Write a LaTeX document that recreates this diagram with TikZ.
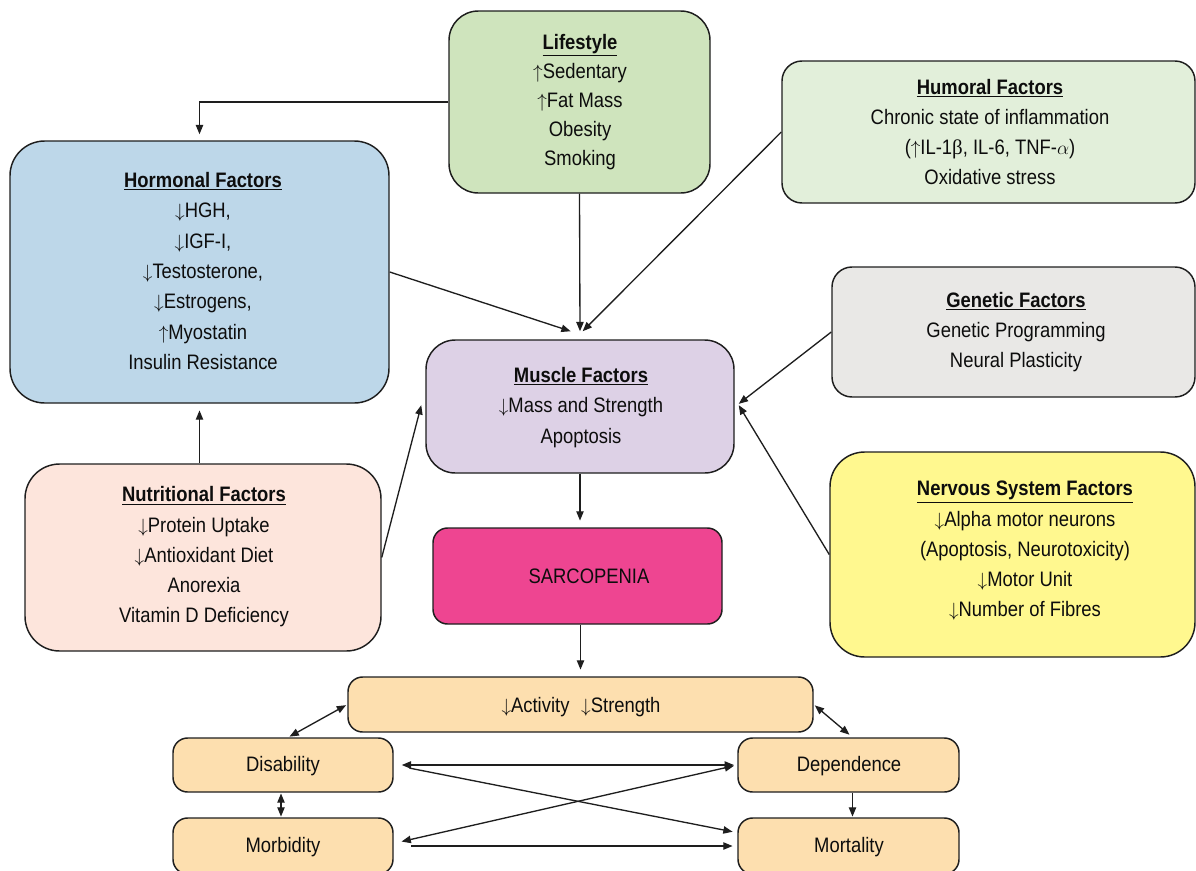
\documentclass[tikz,border=0pt]{standalone}
\usepackage{fontspec}
\setmainfont{Liberation Sans}[FakeStretch=0.88]
\newfontfamily\grk{Liberation Serif}
\usetikzlibrary{fit,arrows.meta,calc}
\definecolor{cLife}{HTML}{CFE4BD}
\definecolor{cHum}{HTML}{E2EFDA}
\definecolor{cHorm}{HTML}{BDD7E9}
\definecolor{cGen}{HTML}{E9E8E6}
\definecolor{cMus}{HTML}{DDD1E6}
\definecolor{cNut}{HTML}{FDE5DC}
\definecolor{cNerv}{HTML}{FFF88F}
\definecolor{cSar}{HTML}{EE4591}
\definecolor{cOut}{HTML}{FDDFAF}
\definecolor{cLine}{HTML}{1E1E1E}
\newcommand{\ttl}[1]{\underline{\textbf{#1}}}
\newcommand{\UA}{$\uparrow$}
\newcommand{\DA}{$\downarrow$}
\tikzset{
  box/.style={draw=cLine, line width=1.1pt, inner sep=0pt},
  txt/.style={align=center, inner sep=0pt, text=black!95,
    font=\fontsize{15.7}{22.7}\selectfont},
  conn/.style={draw=cLine, line width=1pt, -{Triangle[length=7pt,width=5.5pt]}},
  dconn/.style={draw=cLine, line width=1pt, {Triangle[length=7pt,width=5.5pt]}-{Triangle[length=7pt,width=5.5pt]}}
}
\begin{document}
\begin{tikzpicture}[x=0.75pt,y=-0.75pt]
\useasboundingbox (0,0) rectangle (1196,871);
% boxes
\node[box, fill=cLife, rounded corners=22pt, fit={(449,11)(710,193)}] (life) {};
\node[box, fill=cHum, rounded corners=15pt, fit={(782,61)(1195,203)}] (hum) {};
\node[box, fill=cHorm, rounded corners=26pt, fit={(10,141)(389,403)}] (horm) {};
\node[box, fill=cGen, rounded corners=15pt, fit={(832,267)(1195,397)}] (gen) {};
\node[box, fill=cMus, rounded corners=22pt, fit={(426,340)(734,473)}] (musc) {};
\node[box, fill=cNut, rounded corners=26pt, fit={(25,464)(381,651)}] (nut) {};
\node[box, fill=cNerv, rounded corners=26pt, fit={(830,452)(1195,657)}] (nerv) {};
\node[box, fill=cSar, rounded corners=11pt, fit={(433,528)(722,624)}] (sar) {};
\node[box, fill=cOut, rounded corners=11pt, fit={(348,677)(813,732)}] (act) {};
\node[box, fill=cOut, rounded corners=11pt, fit={(173,738)(393,792)}] (dis) {};
\node[box, fill=cOut, rounded corners=11pt, fit={(738,738)(959,792)}] (dep) {};
\node[box, fill=cOut, rounded corners=11pt, fit={(173,818)(393,874)}] (morb) {};
\node[box, fill=cOut, rounded corners=11pt, fit={(738,818)(959,874)}] (mort) {};
% texts
\node[txt, font=\fontsize{15.7}{21.9}\selectfont] (lifeT) at (580,102)
  {\ttl{Lifestyle}\\ \UA Sedentary\\ \UA Fat Mass\\ Obesity\\ Smoking};
\node[txt] (humT) at (990,132)
  {\ttl{Humoral Factors}\\ Chronic state of inflammation\\ (\UA IL-1{\grk β}, IL-6, TNF-$\alpha$)\\ Oxidative stress};
\node[txt] (hormT) at (203,271)
  {\ttl{Hormonal Factors}\\ \DA HGH,\\ \DA IGF-I,\\ \DA Testosterone,\\ \DA Estrogens,\\ \UA Myostatin\\ Insulin Resistance};
\node[txt] (genT) at (1016,332)
  {\ttl{Genetic Factors}\\ Genetic Programming\\ Neural Plasticity};
\node[txt] (muscT) at (581,407.5)
  {\ttl{Muscle Factors}\\ \DA Mass and Strength\\ Apoptosis};
\node[txt] (nutT) at (204,557)
  {\ttl{Nutritional Factors}\\ \DA Protein Uptake\\ \DA Antioxidant Diet\\ Anorexia\\ Vitamin D Deficiency};
\node[txt] (nervT) at (1025,551)
  {\ttl{Nervous System Factors}\\ \DA Alpha motor neurons\\ (Apoptosis, Neurotoxicity)\\ \DA Motor Unit\\ \DA Number of Fibres};
\node[txt] (sarT) at (589,576) {SARCOPENIA};
\node[txt] (actT) at (581,707) {\DA Activity\hspace{5pt} \DA Strength};
\node[txt] (disT) at (283,766) {Disability};
\node[txt] (depT) at (849,766) {Dependence};
\node[txt] (morbT) at (283,847) {Morbidity};
\node[txt] (mortT) at (849,847) {Mortality};
% helper coordinates
\coordinate (mt) at ([yshift=6pt]musc.north);
\coordinate (me) at ([xshift=3pt]musc.east);
\coordinate (mw) at ([xshift=-3pt]musc.west);
% connectors
\draw[conn] (life.west) -| ([yshift=4.5pt]horm.north);
\draw[conn] (life.south) -- (mt);
\draw[conn] (horm.east) -- ([xshift=-7pt]mt);
\draw[conn] (hum.west) -- ([xshift=2pt]mt);
\draw[conn] (gen.west) -- ([yshift=2pt]me);
\draw[conn] (nerv.west) -- ([yshift=1pt]me);
\draw[conn] (nut.east) -- ([yshift=1pt]mw);
\draw[conn] (horm.south |- nut.north) -- ([yshift=-5pt]horm.south);
\draw[conn] (musc.south) -- ([yshift=5pt]musc.south |- sar.north);
\draw[conn] (act.north |- sar.south) -- ([yshift=5pt]act.north);
\draw[dconn, shorten <=1pt, shorten >=1pt] (act.west) -- ([xshift=4pt]dis.north);
\draw[dconn, shorten <=1pt, shorten >=3pt] (act.east) -- ([xshift=3pt]dep.north);
\draw[dconn, shorten <=6pt, shorten >=2.5pt] (dis.east) -- (dep.west);
\draw[conn, shorten <=12pt, shorten >=3.5pt] (dis.east) -- ([yshift=10pt]mort.west);
\draw[dconn, shorten <=6pt, shorten >=2.5pt] ([yshift=2pt]morb.east) -- (dep.west);
\draw[conn, shorten <=13pt, shorten >=3.5pt] (morb.east) -- (mort.west);
\draw[dconn, shorten <=0.5pt, shorten >=0.5pt] ([xshift=-1.5pt]dis.south) -- ([xshift=-1.5pt]morb.north);
\draw[conn, shorten >=0.5pt] ([xshift=3pt]dep.south) -- ([xshift=3pt]mort.north);
\end{tikzpicture}
\end{document}
